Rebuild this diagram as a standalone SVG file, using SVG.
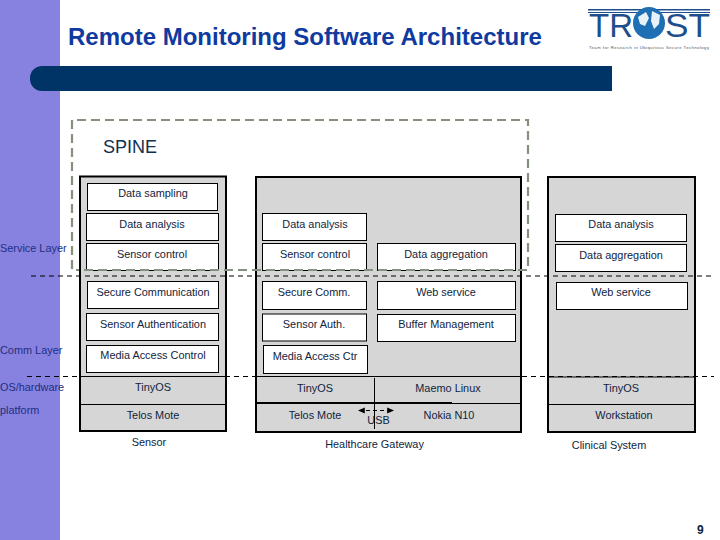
<svg xmlns="http://www.w3.org/2000/svg" width="720" height="540" viewBox="0 0 720 540">
<style>
text{font-family:"Liberation Sans",Arial,sans-serif;fill:#10243e;font-size:10.9px}
.c{text-anchor:middle}
.b{fill:#fff;stroke:#000;stroke-width:1}
.o{fill:#d6d6d6;stroke:#000;stroke-width:2}
.l{stroke:#000;fill:none}
.d{stroke:#000;fill:none;stroke-width:1;stroke-dasharray:5 4}
.lab{fill:#1f2f80}
</style>
<defs>
<marker id="ah" viewBox="0 0 6 6" refX="5" refY="3" markerWidth="7" markerHeight="7" markerUnits="userSpaceOnUse" orient="auto-start-reverse"><path d="M0 0.5L6 3L0 5.5z" fill="#000"/></marker>
</defs>
<rect width="720" height="540" fill="#fff"/>
<rect id="sidebar" width="60" height="540" fill="#8781e0"/>
<path id="bar" d="M42 66H612V91H42A12 12 0 0 1 30 79V78A12 12 0 0 1 42 66Z" fill="#003366"/>
<text x="68" y="45" style="font-size:24px;font-weight:bold;fill:#0f3aa0">Remote Monitoring Software Architecture</text>
<g id="logo">
<rect x="588" y="9" width="122" height="1.500" fill="#1d4f8c"/>
<rect x="588" y="12" width="122" height="1" fill="#1d4f8c"/>
<text x="589" y="37" style="font-size:33px;fill:#1d4f8c" textLength="44" lengthAdjust="spacingAndGlyphs">TR</text>
<text x="665" y="37" style="font-size:33px;fill:#1d4f8c" textLength="45" lengthAdjust="spacingAndGlyphs">ST</text>
<circle cx="649" cy="23" r="16" fill="#1f6fb5"/>
<path d="M638 17l8-5 3 6-4 8-5-2zM652 11l8 4-1 9-5 5-3-8z" fill="#e8f1f8"/>
<text x="589" y="48.500" style="font-size:4.200px;fill:#555" textLength="120">Team for Research in Ubiquitous Secure Technology</text>
</g>
<g id="sensor">
<rect class="o" x="80" y="176.500" width="146" height="254.500"/>
<path class="l" d="M80 376.500H226M80 404.500H226"/>
<rect class="b" x="87.500" y="183.500" width="130" height="27"/><text class="c" x="153" y="197">Data sampling</text>
<rect class="b" x="86.500" y="213.500" width="132" height="27"/><text class="c" x="152" y="228">Data analysis</text>
<rect class="b" x="86.500" y="243.500" width="132" height="27"/><text class="c" x="152" y="258">Sensor control</text>
<rect class="b" x="87.500" y="281.500" width="131" height="27"/><text class="c" x="153" y="296">Secure Communication</text>
<rect class="b" x="86.500" y="313.500" width="132" height="27"/><text class="c" x="153" y="328">Sensor Authentication</text>
<rect class="b" x="86.500" y="345.500" width="132" height="27"/><text class="c" x="153" y="359">Media Access Control</text>
<text class="c" x="153" y="391">TinyOS</text>
<text class="c" x="153" y="419">Telos Mote</text>
<text class="c" x="149" y="446">Sensor</text>
</g>
<g id="gateway">
<rect class="o" x="256" y="177" width="265" height="255"/>
<path class="l" d="M256 376.500H521"/>
<path class="l" style="stroke-width:2" d="M256 403H452"/>
<path class="l" d="M452 403.500H521"/>
<rect class="b" x="262.500" y="213.500" width="104" height="27"/><text class="c" x="315" y="228">Data analysis</text>
<rect class="b" x="262.500" y="243.500" width="104" height="27"/><text class="c" x="315" y="258">Sensor control</text>
<rect class="b" x="262.500" y="281.500" width="104" height="28"/><text class="c" x="314" y="296">Secure Comm.</text>
<rect class="b" x="262.500" y="314" width="104" height="27"/><text class="c" x="314" y="328">Sensor Auth.</text>
<rect class="b" x="263.500" y="345.500" width="104" height="28"/><text class="c" x="315" y="360">Media Access Ctr</text>
<rect class="b" x="377.500" y="243.500" width="138" height="27"/><text class="c" x="446" y="258">Data aggregation</text>
<rect class="b" x="377.500" y="281.500" width="138" height="28"/><text class="c" x="446" y="296">Web service</text>
<rect class="b" x="377.500" y="314.500" width="138" height="27"/><text class="c" x="446" y="328">Buffer Management</text>
<text class="c" x="315" y="392">TinyOS</text>
<text class="c" x="448" y="392">Maemo Linux</text>
<text class="c" x="315" y="419">Telos Mote</text>
<text class="c" x="449" y="419">Nokia N10</text>
<text class="c" x="378.500" y="424">USB</text>
<text class="c" x="374.500" y="448">Healthcare Gateway</text>
</g>
<g id="clinical">
<rect class="o" x="548" y="177" width="147" height="255"/>
<path class="l" d="M548 377H695M548 404.500H695"/>
<rect class="b" x="555.500" y="214.500" width="131" height="27"/><text class="c" x="621" y="228">Data analysis</text>
<rect class="b" x="555.500" y="244.500" width="131" height="27"/><text class="c" x="621" y="259">Data aggregation</text>
<rect class="b" x="556.500" y="282.500" width="131" height="27"/><text class="c" x="621" y="296">Web service</text>
<text class="c" x="621" y="392">TinyOS</text>
<text class="c" x="624" y="419">Workstation</text>
<text class="c" x="609" y="449">Clinical System</text>
</g>
<g id="connectors">
<path d="M72 269V120H528V270H76" fill="none" stroke="#86907f" stroke-width="2.200" stroke-dasharray="9 5"/>
<path class="d" d="M31 276H714"/>
<path class="d" d="M27 376.500H714"/>
<path class="l" d="M374.500 378V429"/>
<path class="l" d="M359 410.500H393" stroke-dasharray="4 3" marker-start="url(#ah)" marker-end="url(#ah)"/>
</g>
<text x="103" y="153" style="font-size:18px;fill:#10304f">SPINE</text>
<text class="lab" x="0" y="252">Service Layer</text>
<text class="lab" x="0" y="354">Comm Layer</text>
<text class="lab" x="0" y="391">OS/hardware</text>
<text class="lab" x="0" y="414">platform</text>
<text x="697" y="534" style="font-size:12px;font-weight:bold;fill:#10243e">9</text>
</svg>
